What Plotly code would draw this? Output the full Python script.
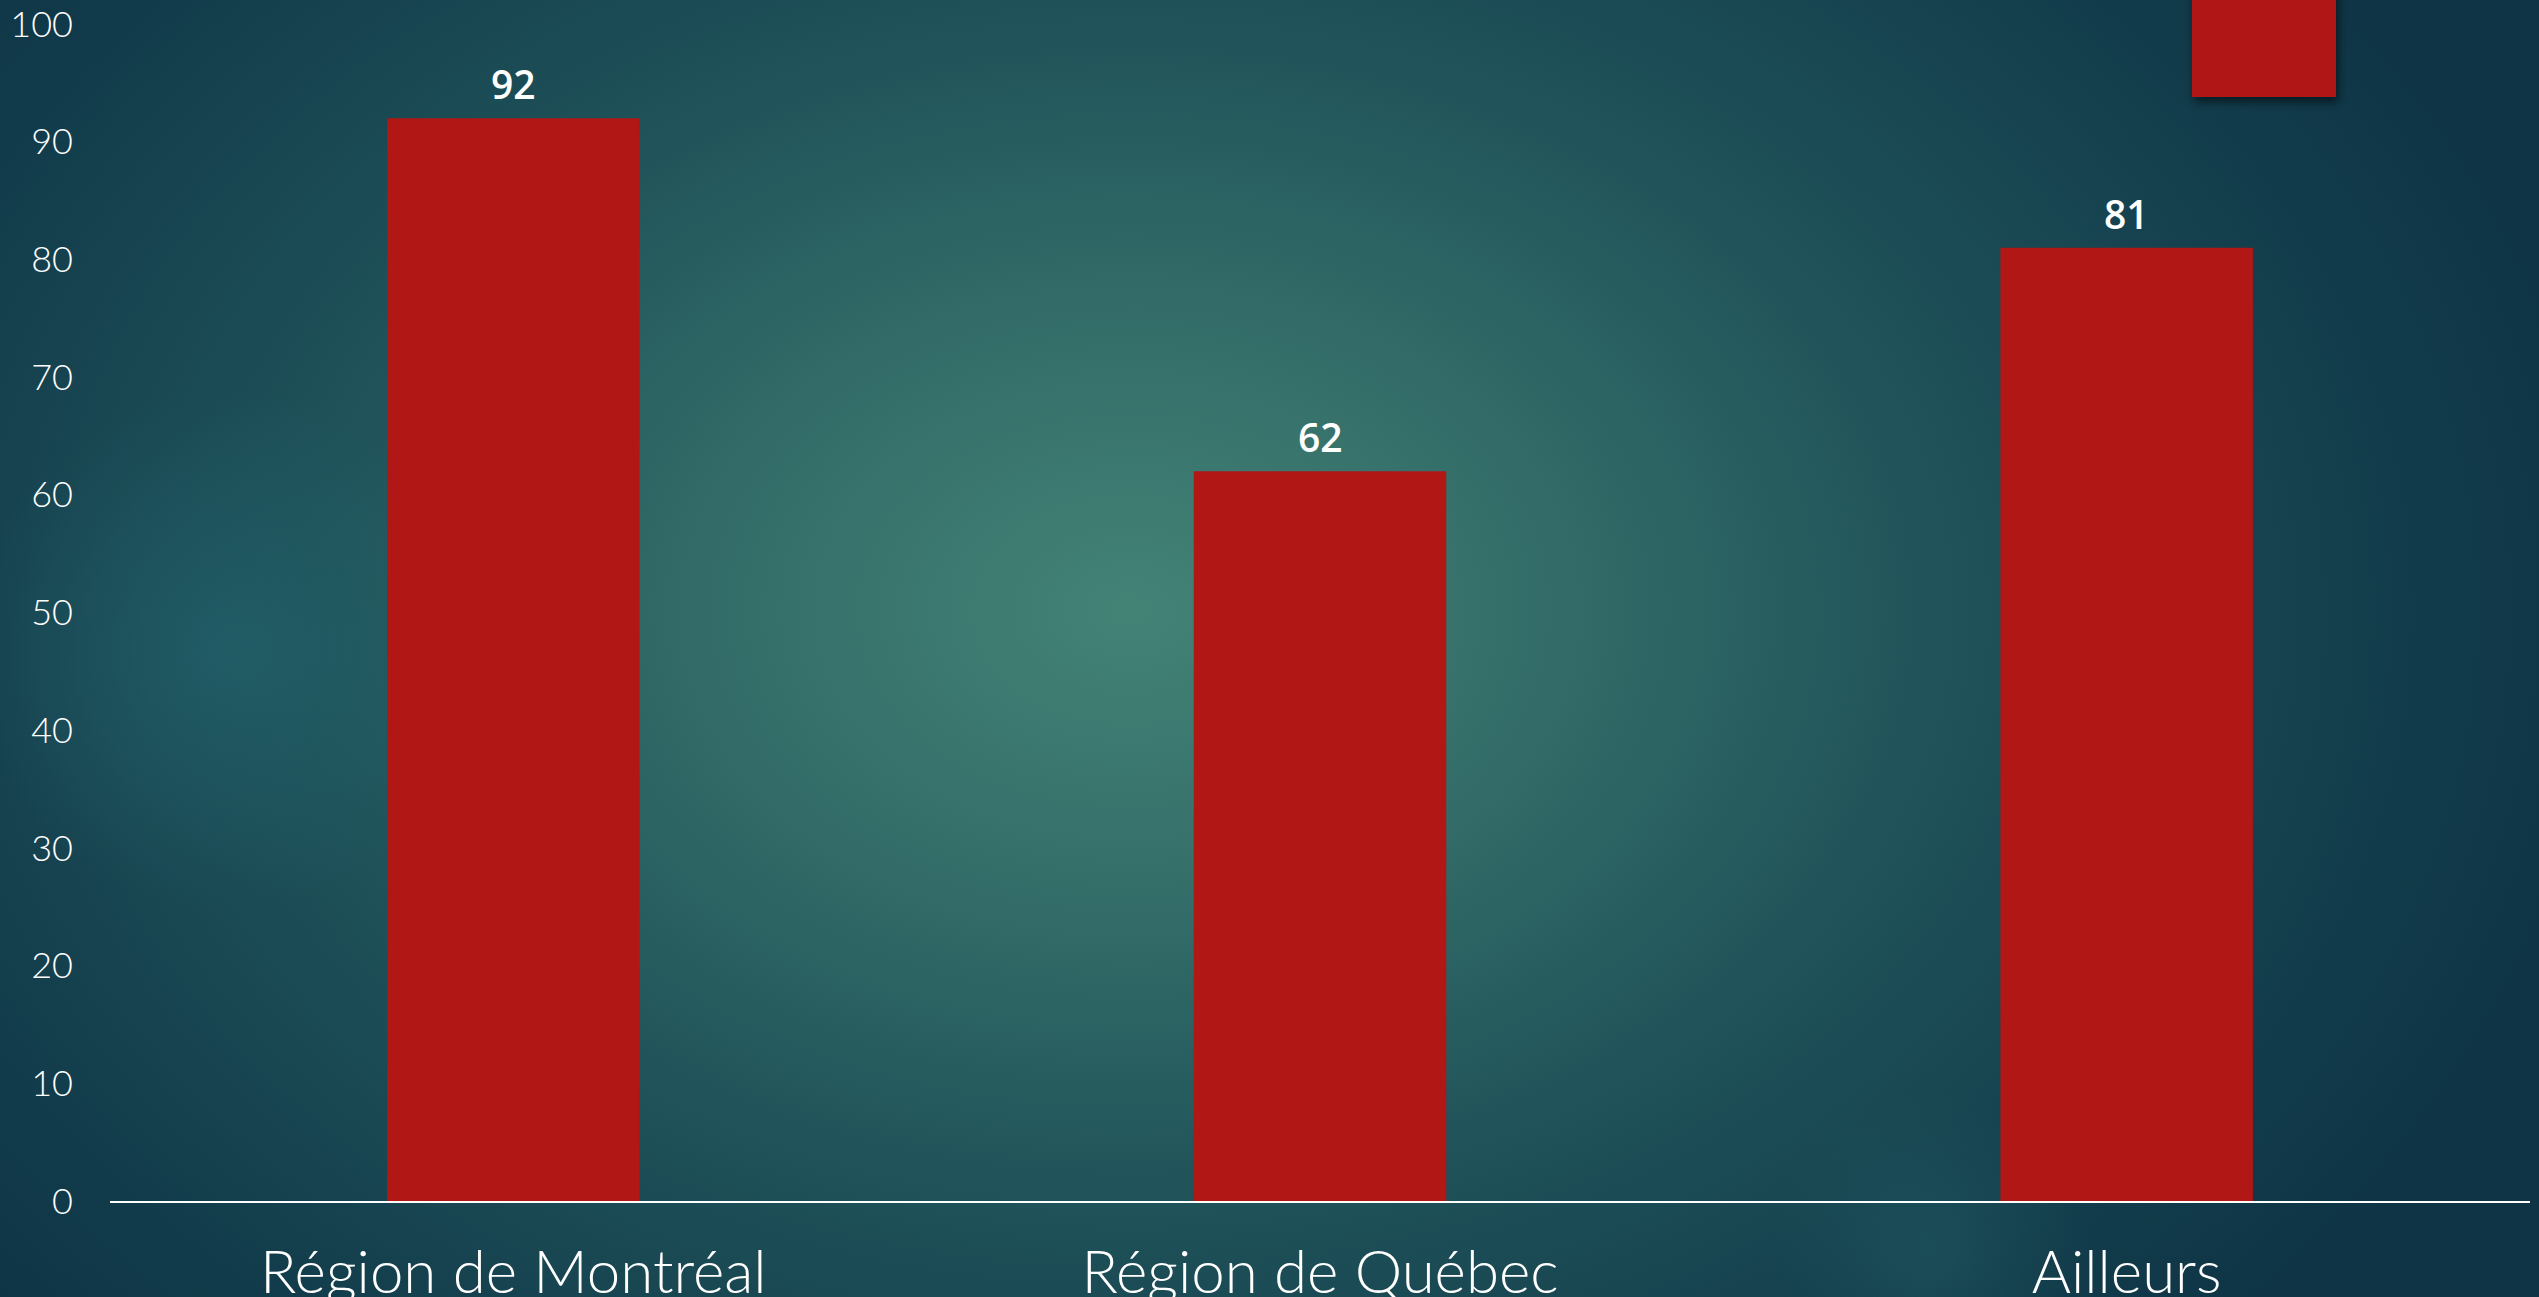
import base64
import plotly.graph_objects as go

# ---- data ----
categories = ["Région de Montréal", "Région de Québec", "Ailleurs"]
values = [92, 62, 81]
y_ticks = [0, 10, 20, 30, 40, 50, 60, 70, 80, 90, 100]

W, H = 2539, 1297
L, R, T, B = 110, 9, 24, 96
PW, PH = W - L - R, H - T - B

BAR_RED = "#b01715"

svg = f"""<svg xmlns='http://www.w3.org/2000/svg' width='{W}' height='{H}' viewBox='0 0 {W} {H}'>
<defs>
<radialGradient id='g' cx='1130' cy='610' r='1500' gradientUnits='userSpaceOnUse' gradientTransform='translate(1130 610) scale(1 0.72) translate(-1130 -610)'>
<stop offset='0' stop-color='#438376'/>
<stop offset='0.25' stop-color='#356f6a'/>
<stop offset='0.55' stop-color='#1f5259'/>
<stop offset='0.85' stop-color='#123c4b'/>
<stop offset='1' stop-color='#0e3445'/>
</radialGradient>
<radialGradient id='b' cx='230' cy='650' r='260' gradientUnits='userSpaceOnUse'>
<stop offset='0' stop-color='#22606a' stop-opacity='0.75'/>
<stop offset='1' stop-color='#22606a' stop-opacity='0'/>
</radialGradient>
<radialGradient id='c' cx='1930' cy='1250' r='160' gradientUnits='userSpaceOnUse'>
<stop offset='0' stop-color='#20565f' stop-opacity='0.6'/>
<stop offset='1' stop-color='#20565f' stop-opacity='0'/>
</radialGradient>
<filter id='s' x='-20%' y='-20%' width='140%' height='150%'>
<feDropShadow dx='2' dy='5' stdDeviation='5' flood-color='#000' flood-opacity='0.55'/>
</filter>
</defs>
<rect width='{W}' height='{H}' fill='url(#g)'/>
<rect width='{W}' height='{H}' fill='url(#b)'/>
<rect width='{W}' height='{H}' fill='url(#c)'/>
<rect x='2192' y='-20' width='144' height='117' fill='{BAR_RED}' filter='url(#s)'/>
</svg>"""
bg_uri = "data:image/svg+xml;base64," + base64.b64encode(svg.encode()).decode()

fig = go.Figure()
fig.add_trace(go.Bar(
    x=categories, y=values,
    marker=dict(color=BAR_RED, line=dict(width=0)),
    hoverinfo="x+y",
))

for c, v in zip(categories, values):
    fig.add_annotation(
        x=c, y=v, text=str(v), showarrow=False,
        yanchor="bottom", yshift=6,
        font=dict(family="Open Sans", size=39, color="white", weight=600),
    )

fig.add_layout_image(
    source=bg_uri, xref="paper", yref="paper",
    x=-L / PW, y=1 + T / PH, sizex=W / PW, sizey=H / PH,
    xanchor="left", yanchor="top", sizing="stretch", layer="below",
)

fig.update_layout(
    width=W, height=H,
    margin=dict(l=L, r=R, t=T, b=B, pad=0, autoexpand=False),
    paper_bgcolor="#1a4a55",
    plot_bgcolor="rgba(0,0,0,0)",
    bargap=0.687,
    showlegend=False,
    xaxis=dict(
        showgrid=False, zeroline=False, automargin=False,
        showline=True, linecolor="white", linewidth=2,
        ticks="", ticklabelstandoff=18,
        tickfont=dict(family="Lato", size=60, color="white", weight=300),
    ),
    yaxis=dict(
        range=[0, 100], tickvals=y_ticks, ticktext=[str(t) for t in y_ticks],
        showgrid=False, zeroline=False, showline=False, automargin=False,
        ticks="", ticklabelstandoff=36,
        tickfont=dict(family="Lato", size=36, color="white", weight=300),
    ),
)

fig.write_html(
    "out.html",
    config={"displayModeBar": False},
    post_script="document.body.style.margin='0';document.body.style.overflow='hidden';",
)
